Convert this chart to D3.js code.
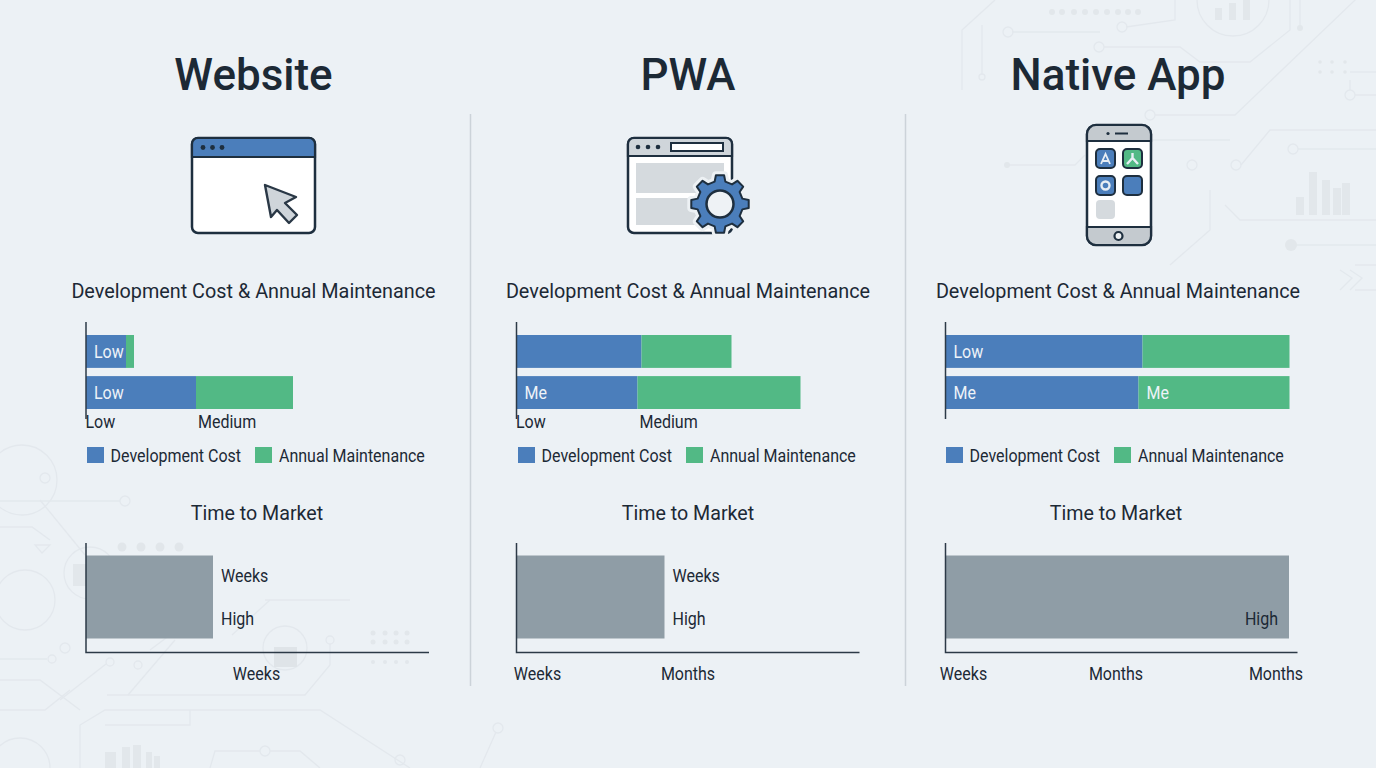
<!DOCTYPE html>
<html><head><meta charset="utf-8">
<script src="https://cdn.jsdelivr.net/npm/d3@7"></script>
<style>html,body{margin:0;padding:0;background:#ecf1f5;overflow:hidden}text{font-family:Roboto,sans-serif}</style>
</head><body><svg id="c" width="1376" height="768"></svg>
<script>
const panels = ["Website","PWA","Native App"];
const costCategories = ["Development Cost","Annual Maintenance"];
const rowNames = ["Development","Maintenance"];
const devValues = [[40,110],[125,121],[197,193]];
const maintValues = [[8,97],[90,163],[147,151]];
const devLabels = [["Low","Low"],["","Me"],["Low","Me"]];
const maintLabels = [["",""],["",""],["","Me"]];
const costTicks = [["Low","Medium"],["Low","Medium"],[]];
const costTickValues = [[-0.5,112],[-0.5,123],[]];
const timeValues = [127,148,343.5];
const timeLabels = [["Weeks","High"],["Weeks","High"],["High"]];
const timeTicks = [["Weeks"],["Weeks","Months"],["Weeks","Months","Months"]];
const timeTickValues = [[170.5],[21,171.5],[18,170.5,330.5]];
const colors = {dev:"#4b7ebb",maint:"#52b985",time:"#8f9da6",ink:"#1c2935",axis:"#2c3a47"};

const svg = d3.select("#c");
const x0 = [86,516.5,945.5];
const centers = [253.5,688,1118];
const tcenters = [257,688,1116];
const axisW = [343,343,352];
const legendX = [87,518,946];

// faint background decoration
const deco = "#e3e8ed";
const bg = svg.append("g").attr("fill","none").attr("stroke",deco).attr("stroke-width",1.3);
const decoPaths = ["M962 90V30L995 0","M982 25V75","M1012 32H1100","M1126 27L1175 20V0","M1104 47H1180L1200 62H1250L1290 30V0","M1300 0V28","M1155 115H1235L1376 -20","M1350 72H1376","M1350 80V90M1355 95H1376","M1007 165H1075L1085 155","M1241 165L1270 130H1376","M1298 149H1376","M1291 245H1376","M1225 205L1240 220H1376","M1115 140H1230","M1170 265L1210 230V190","M1340 270L1352 278L1340 290M1350 270L1362 278L1350 290","M1355 265H1376M1355 290H1376",
"M0 501H120","M40 500L85 555","M0 527H32L50 540","M35 545H50L42 553Z","M0 659H47","M60 700L106 664","M128 695L175 640","M107 695H305L330 665V644","M0 680H40L80 710","M0 710H45L70 690","M80 768V725L105 710H320L410 768","M105 725H190V710","M210 768L215 751H260","M270 751H300L320 768","M480 768L496 732","M285 600L265 600H350","M150 650L190 620","M232 635L270 600"];
decoPaths.forEach(d=>bg.append("path").attr("d",d));
[[1233,0,36],[1008,32,5],[1122,27,5],[1099,47,5],[982,77,3],[1150,115,5],[1350,95,5],[1236,165,5],[1293,149,5],[1192,165,5],[22,480,35],[45,478,5],[125,501,5],[90,573,26],[25,600,30],[52,659,4],[65,648,5],[110,662,4],[138,665,4],[285,648,22],[330,640,4],[265,751,5],[400,760,5],[498,728,5],[20,768,30]].forEach(c=>bg.append("circle").attr("cx",c[0]).attr("cy",c[1]).attr("r",c[2]));
const bars=[[1296,197,8,18],[1309,172,8,43],[1322,180,8,35],[1333,188,8,27],[1342,183,8,32],[1215,8,7,12],[1229,3,7,17],[1243,0,7,20],[105,752,11,16],[122,747,8,21],[133,745,8,23],[146,752,6,16],[154,756,6,12]];
bg.append("g").attr("fill","#e2e7eb").attr("stroke","none").selectAll("rect").data(bars).join("rect").attr("x",d=>d[0]).attr("y",d=>d[1]).attr("width",d=>d[2]).attr("height",d=>d[3]);
bg.append("rect").attr("x",274).attr("y",647).attr("width",23).attr("height",20).attr("fill","#dfe4e8").attr("stroke","none");
bg.append("rect").attr("x",73).attr("y",564).attr("width",13).attr("height",22).attr("fill","#e2e7eb").attr("stroke","none");
bg.append("g").attr("fill","#e1e6ea").attr("stroke","none").selectAll("circle").data([122,141,160,179]).join("circle").attr("cx",d=>d).attr("cy",547).attr("r",4.5);
const dots=[];[1052,1062,1074,1085,1096,1107,1118,1128,1138].forEach(x=>dots.push([x,12,3]));
[373,385,396,407].forEach(x=>{dots.push([x,633,2.5]);dots.push([x,642,2.5]);dots.push([x,662,2]);});
[1320,1332,1345].forEach(x=>{dots.push([x,62,1.8]);dots.push([x,72,1.8]);});
bg.append("g").attr("fill","#e2e7eb").attr("stroke","none").selectAll("circle").data(dots).join("circle").attr("cx",d=>d[0]).attr("cy",d=>d[1]).attr("r",d=>d[2]);
[[1291,245,6],[1300,28,3],[1007,165,3]].forEach(c=>bg.append("circle").attr("cx",c[0]).attr("cy",c[1]).attr("r",c[2]).attr("fill","#e2e7eb").attr("stroke","none"));

// dividers
svg.selectAll("line.div").data([470.5,905.5]).join("line").attr("x1",d=>d).attr("x2",d=>d).attr("y1",114).attr("y2",686).attr("stroke","#ccd3d9").attr("stroke-width",1.5);

function txt(g,x,y,s,size,sx,fill,anchor,weight){return g.append("text").attr("transform",`translate(${x},${y}) scale(${sx},1)`).text(s).attr("font-size",size).attr("fill",fill||colors.ink).attr("text-anchor",anchor||"start").attr("font-weight",weight||400);}
const SX=0.89;

panels.forEach((p,i)=>{
  const g = svg.append("g");
  txt(g,centers[i],90,p,45,0.977,colors.ink,"middle",500);
  txt(g,centers[i],298,"Development Cost & Annual Maintenance",21,0.943,colors.ink,"middle");
  const x = d3.scaleLinear().domain([0,344]).range([x0[i],x0[i]+344]);
  const y = d3.scaleBand().domain(rowNames).range([335,409]).paddingInner(0.2).paddingOuter(0);
  const h = y.bandwidth();
  rowNames.forEach((r,k)=>{
    const d=devValues[i][k], m=maintValues[i][k];
    g.append("rect").attr("x",x(0)).attr("y",y(r)).attr("width",x(d)-x(0)).attr("height",h).attr("fill",colors.dev);
    g.append("rect").attr("x",x(d)).attr("y",y(r)).attr("width",x(d+m)-x(d)).attr("height",h).attr("fill",colors.maint);
    if(devLabels[i][k]) txt(g,x(0)+8,y(r)+22.5,devLabels[i][k],18,SX,"#eef3f8");
    if(maintLabels[i][k]) txt(g,x(d)+8,y(r)+22.5,maintLabels[i][k],18,SX,"#eef3f8");
  });
  g.append("line").attr("x1",x(0)).attr("x2",x(0)).attr("y1",322).attr("y2",419).attr("stroke",colors.axis).attr("stroke-width",1.5);
  costTicks[i].forEach((t,k)=>txt(g,x(costTickValues[i][k]),428,t,18,SX));
  // legend
  const lx=legendX[i];
  g.append("rect").attr("x",lx).attr("y",447).attr("width",17).attr("height",16).attr("fill",colors.dev);
  txt(g,lx+23.5,461.5,costCategories[0],18,SX);
  g.append("rect").attr("x",lx+168).attr("y",447).attr("width",17).attr("height",16).attr("fill",colors.maint);
  txt(g,lx+192,461.5,costCategories[1],18,SX);
  // time
  txt(g,tcenters[i],520,"Time to Market",21,0.936,colors.ink,"middle");
  const tx = d3.scaleLinear().domain([0,344]).range([x0[i],x0[i]+344]);
  g.append("rect").attr("x",tx(0)).attr("y",555.5).attr("width",tx(timeValues[i])-tx(0)).attr("height",83).attr("fill",colors.time);
  g.append("path").attr("d",`M${x0[i]} 543V652.5H${x0[i]+axisW[i]}`).attr("fill","none").attr("stroke",colors.axis).attr("stroke-width",1.5);
  if(i<2){
    txt(g,tx(timeValues[i])+8,582,timeLabels[i][0],18,SX);
    txt(g,tx(timeValues[i])+8,625,timeLabels[i][1],18,SX);
  } else txt(g,tx(timeValues[i])-11,625,timeLabels[i][0],18,SX,colors.ink,"end");
  timeTicks[i].forEach((t,k)=>txt(g,tx(timeTickValues[i][k]),680,t,18,SX,colors.ink,"middle"));
});

// icons
const ink="#1e2f3f", blue="#4b7ebb", grey="#cfd5da";
// Website
const w=svg.append("g").attr("transform","translate(192,138)");
w.append("rect").attr("width",123).attr("height",95).attr("rx",6).attr("fill","#fff").attr("stroke",ink).attr("stroke-width",2.5);
w.append("path").attr("d","M0 19V6a6 6 0 0 1 6-6H117a6 6 0 0 1 6 6V19Z").attr("fill",blue).attr("stroke",ink).attr("stroke-width",2.2);
w.selectAll("circle").data([11,20.5,30]).join("circle").attr("cx",d=>d).attr("cy",9.5).attr("r",2.4).attr("fill",ink);
w.append("path").attr("d","M73 47L104 59L93 65L105 77L97 85L85 72L79 79Z").attr("fill",grey).attr("stroke","#2a3846").attr("stroke-width",2.4).attr("stroke-linejoin","round");
// PWA
const pw=svg.append("g").attr("transform","translate(628,138)");
pw.append("rect").attr("width",104).attr("height",95).attr("rx",6).attr("fill","#fff").attr("stroke",ink).attr("stroke-width",2.5);
pw.append("path").attr("d","M0 18V6a6 6 0 0 1 6-6H98a6 6 0 0 1 6 6V18Z").attr("fill","#cfd5da").attr("stroke",ink).attr("stroke-width",2.2);
pw.selectAll("circle").data([10,20,30]).join("circle").attr("cx",d=>d).attr("cy",9).attr("r",2.3).attr("fill",ink);
pw.append("rect").attr("x",43).attr("y",5).attr("width",52).attr("height",8).attr("fill","#fff").attr("stroke",ink).attr("stroke-width",2);
pw.append("rect").attr("x",8).attr("y",25).attr("width",88).attr("height",30).attr("fill","#d5dade");
pw.append("rect").attr("x",8).attr("y",60).attr("width",62).attr("height",27).attr("fill","#d5dade");
function gear(r1,r2,n){const a=[];const st=2*Math.PI/n;for(let k=0;k<n;k++){const t=k*st-Math.PI/2;[[-.3,r1],[-.18,r2],[.18,r2],[.3,r1]].forEach(q=>{const ang=t+q[0]*st;a.push([q[1]*Math.cos(ang),q[1]*Math.sin(ang)]);});}return "M"+a.map(p=>p.join(" ")).join("L")+"Z";}
const ge=svg.append("g").attr("transform","translate(720,204)");
ge.append("path").attr("d",gear(23,29,8)).attr("fill","#edf1f4").attr("stroke","#edf1f4").attr("stroke-width",8).attr("stroke-linejoin","round");
ge.append("path").attr("d",gear(23,29,8)).attr("fill",blue).attr("stroke",ink).attr("stroke-width",2).attr("stroke-linejoin","round");
ge.append("circle").attr("r",13.5).attr("fill","#eef2f5").attr("stroke",ink).attr("stroke-width",2.5);
// Phone
const ph=svg.append("g").attr("transform","translate(1087,125)");
ph.append("rect").attr("width",64).attr("height",120).attr("rx",9).attr("fill","#fff").attr("stroke",ink).attr("stroke-width",2.5);
ph.append("path").attr("d","M0 16V9a9 9 0 0 1 9-9H55a9 9 0 0 1 9 9V16Z").attr("fill","#c4cacf").attr("stroke",ink).attr("stroke-width",2.2);
ph.append("path").attr("d","M0 102V111a9 9 0 0 0 9 9H55a9 9 0 0 0 9-9V102Z").attr("fill","#c4cacf").attr("stroke",ink).attr("stroke-width",2.2);
ph.append("circle").attr("cx",21).attr("cy",8.5).attr("r",1.6).attr("fill",ink);
ph.append("line").attr("x1",28).attr("x2",41).attr("y1",8.5).attr("y2",8.5).attr("stroke",ink).attr("stroke-width",2);
ph.append("circle").attr("cx",31.5).attr("cy",111).attr("r",4).attr("fill","#eef1f3").attr("stroke",ink).attr("stroke-width",2.2);
[[9,24,blue],[36,24,"#52b985"],[9,51,blue],[36,51,blue]].forEach(a=>ph.append("rect").attr("x",a[0]).attr("y",a[1]).attr("width",19).attr("height",19).attr("rx",4).attr("fill",a[2]).attr("stroke",ink).attr("stroke-width",2));
ph.append("rect").attr("x",9).attr("y",75).attr("width",19).attr("height",19).attr("rx",4).attr("fill","#d5dade");
ph.append("path").attr("d","M14 39L18.5 29L23 39M16 36H21").attr("fill","none").attr("stroke","#e8eef4").attr("stroke-width",1.8);
ph.append("path").attr("d","M40 39L45.5 33L51 39M45.5 33V28").attr("fill","none").attr("stroke","#e8eef4").attr("stroke-width",2.4);
ph.append("circle").attr("cx",18.5).attr("cy",60.5).attr("r",4).attr("fill","none").attr("stroke","#e8eef4").attr("stroke-width",2.4);
</script></body></html>
